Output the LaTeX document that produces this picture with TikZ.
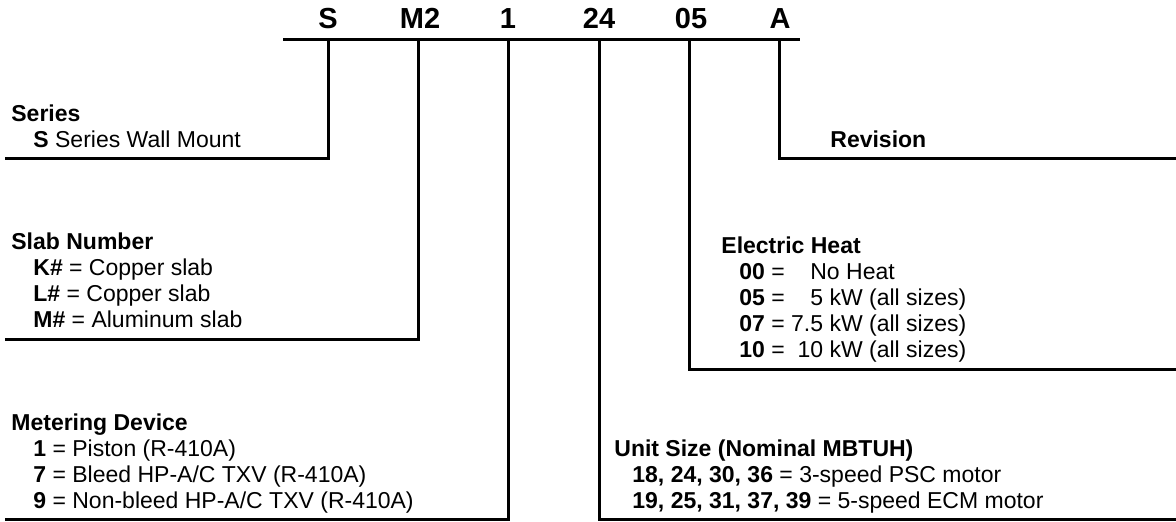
\documentclass[tikz,border=0pt]{standalone}
\usepackage{fontspec}
\setmainfont{Liberation Sans}
\begin{document}
\begin{tikzpicture}[x=0.5pt,y=-0.5pt,
  rule/.style={line width=1.5pt},
  code/.style={font=\fontsize{14.5}{17}\selectfont\bfseries, anchor=base, inner sep=0pt},
  txt/.style={font=\fontsize{11.5}{13}\selectfont, anchor=base west, inner sep=0pt},
  hd/.style={font=\fontsize{11.5}{13}\selectfont\bfseries, anchor=base west, inner sep=0pt}]
\useasboundingbox (0,0) rectangle (1176,522);

% model number characters
\node[code] (cS)  at (328,29) {S};
\node[code] (cM)  at (420,29) {M2};
\node[code] (c1)  at (508,29) {1};
\node[code] (c24) at (599,29) {24};
\node[code] (c05) at (691,29) {05};
\node[code] (cA)  at (780,29) {A};

% bar under the model number
\coordinate (barL) at (283,40);
\coordinate (barR) at (800,40);
\draw[rule] (barL) -- (barR);

% tick tops
\coordinate (tS)  at (328,40);
\coordinate (tM)  at (418,40);
\coordinate (t1)  at (508,40);
\coordinate (t24) at (599,40);
\coordinate (t05) at (689,40);
\coordinate (tA)  at (779,40);

% leg ends
\coordinate (eS)  at (5,159);
\coordinate (eM)  at (5,340);
\coordinate (e1)  at (5,520);
\coordinate (e24) at (1176,520);
\coordinate (e05) at (1176,370);
\coordinate (eA)  at (1176,159);

\draw[rule] (tS)  |- (eS);
\draw[rule] (tM)  |- (eM);
\draw[rule] (t1)  |- (e1);
\draw[rule] (t24) |- (e24);
\draw[rule] (t05) |- (e05);
\draw[rule] (tA)  |- (eA);

% Series
\node[hd]  (serH) at (11,122) {Series};
\node[txt] (ser1) at (33,148) {\textbf{S} Series Wall Mount};

% Slab Number
\node[hd]  (slbH) at (11,250) {Slab Number};
\node[txt] (slb1) at (33,276) {\textbf{K\#} = Copper slab};
\node[txt] (slb2) at (33,302) {\textbf{L\#} = Copper slab};
\node[txt] (slb3) at (33,328) {\textbf{M\#} = Aluminum slab};

% Metering Device
\node[hd]  (metH) at (11,431) {Metering Device};
\node[txt] (met1) at (33,457) {\textbf{1} = Piston (R-410A)};
\node[txt] (met2) at (33,483) {\textbf{7} = Bleed HP-A/C TXV (R-410A)};
\node[txt] (met3) at (33,509) {\textbf{9} = Non-bleed HP-A/C TXV (R-410A)};

% Revision
\node[hd] (revH) at (830,148) {Revision};

% Electric Heat
\node[hd]  (ehH) at (721,254) {Electric Heat};
\node[txt] (eh1) at (739,280) {\textbf{00} = \phantom{7.}No Heat};
\node[txt] (eh2) at (739,306) {\textbf{05} = \phantom{7.}5 kW (all sizes)};
\node[txt] (eh3) at (739,332) {\textbf{07} = 7.5 kW (all sizes)};
\node[txt] (eh4) at (739,358) {\textbf{10} = \phantom{.}10 kW (all sizes)};

% Unit Size
\node[hd]  (usH) at (614,457) {Unit Size (Nominal MBTUH)};
\node[txt] (us1) at (632,483) {\textbf{18, 24, 30, 36} = 3-speed PSC motor};
\node[txt] (us2) at (632,509) {\textbf{19, 25, 31, 37, 39} = 5-speed ECM motor};
\end{tikzpicture}
\end{document}
